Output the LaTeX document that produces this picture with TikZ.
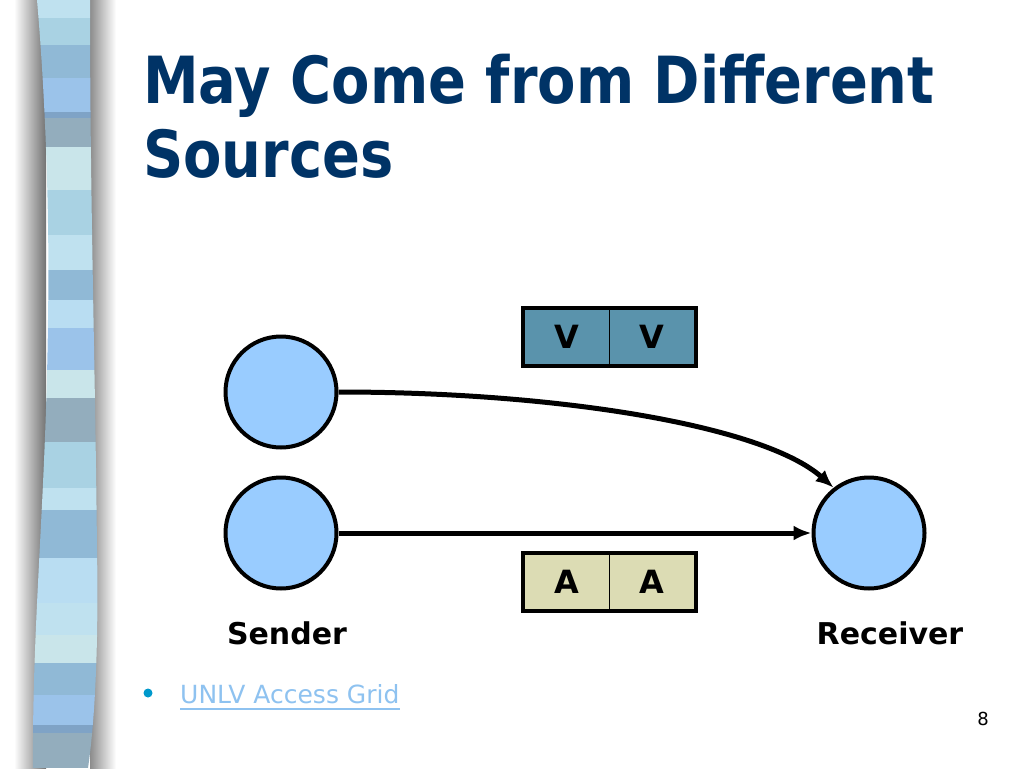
\documentclass[tikz,border=0pt]{standalone}
\usepackage{fontspec}
\setmainfont{DejaVu Sans}
\newfontfamily\titlefont{DejaVu Sans}[FakeStretch=0.86]
\usetikzlibrary{arrows.meta,calc}

\definecolor{titleblue}{HTML}{003366}
\definecolor{hostblue}{HTML}{99CCFF}
\definecolor{vidblue}{HTML}{5A93AC}
\definecolor{audbeige}{HTML}{DCDCB4}
\definecolor{linkblue}{HTML}{8EC2F0}
\definecolor{dotblue}{HTML}{0099CC}
\definecolor{sA}{HTML}{BFE1EF}
\definecolor{sB}{HTML}{A9D2E3}
\definecolor{sC}{HTML}{90B9D6}
\definecolor{sD}{HTML}{9BC3EA}
\definecolor{sE}{HTML}{7FA3C6}
\definecolor{sF}{HTML}{93ADBD}
\definecolor{sG}{HTML}{C9E5EA}
\definecolor{sH}{HTML}{B9DDF2}

\tikzset{
  host/.style={circle, draw=black, line width=4pt, fill=hostblue, minimum size=111pt, inner sep=0pt},
  cell/.style={rectangle, draw=black, line width=1.5pt, minimum width=85.5pt, minimum height=56pt, inner sep=0pt, font=\bfseries\fontsize{32}{36}\selectfont},
  flow/.style={line width=5pt, -{Latex[length=18pt,width=15pt]}},
  tag/.style={font=\bfseries\fontsize{30}{34}\selectfont, anchor=base},
}

\begin{document}
\begin{tikzpicture}[x=1pt, y=-1pt]
		%%%%% START %%%%%
		\useasboundingbox (0, 0) rectangle (1024, 768);
		\fill[white] (0, 0) rectangle (1024, 768);
		
		% strip shadow
		\shade[left color=white, right color=black!55] (14, 0) rectangle (46, 768);
		\shade[left color=black!45, right color=white] (90, 0) rectangle (116, 768);
		
		% strip
		\begin{scope}
		\clip (37, 0) .. controls (44, 80) and (50, 200) .. (48, 320) .. controls (46, 500) and (32, 620) .. (33, 768) -- (88, 768) .. controls (98, 700) and (98, 600) .. (97, 550) .. controls (95, 350) and (90, 200) .. (90, 0) -- cycle;
		\fill[sA] (0, 0) rectangle (120, 18);
		\fill[sB] (0, 18) rectangle (120, 45);
		\fill[sC] (0, 45) rectangle (120, 78);
		\fill[sD] (0, 78) rectangle (120, 112);
		\fill[sE] (0, 112) rectangle (120, 118);
		\fill[sF] (0, 118) rectangle (120, 147);
		\fill[sG] (0, 147) rectangle (120, 190);
		\fill[sB] (0, 190) rectangle (120, 235);
		\fill[sA] (0, 235) rectangle (120, 270);
		\fill[sC] (0, 270) rectangle (120, 300);
		\fill[sH] (0, 300) rectangle (120, 328);
		\fill[sD] (0, 328) rectangle (120, 370);
		\fill[sG] (0, 370) rectangle (120, 398);
		\fill[sF] (0, 398) rectangle (120, 442);
		\fill[sB] (0, 442) rectangle (120, 488);
		\fill[sA] (0, 488) rectangle (120, 510);
		\fill[sC] (0, 510) rectangle (120, 558);
		\fill[sH] (0, 558) rectangle (120, 603);
		\fill[sA] (0, 603) rectangle (120, 635);
		\fill[sG] (0, 635) rectangle (120, 663);
		\fill[sC] (0, 663) rectangle (120, 695);
		\fill[sD] (0, 695) rectangle (120, 725);
		\fill[sE] (0, 725) rectangle (120, 733);
		\fill[sF] (0, 733) rectangle (120, 768);
		\end{scope}
		
		% title
		\node[anchor=base west, inner sep=0pt, text=titleblue, font=\titlefont\bfseries\fontsize{65}{74}\selectfont] (title1) at (143, 103) {May Come from Different};
		\node[anchor=base west, inner sep=0pt, text=titleblue, font=\titlefont\bfseries\fontsize{65}{74}\selectfont] (title2) at (143, 177) {Sources};
		
		% hosts
		\node[host] (sendA) at (281, 392) {};
		\node[host] (sendB) at (281, 533) {};
		\node[host] (recv) at (869, 533) {};
		
		\node[tag] (lblSend) at (287, 644) {Sender};
		\node[tag] (lblRecv) at (890, 644) {Receiver};
		
		% packets
		\node[cell, fill=vidblue] (vidA) at (566.75, 337) {V};
		\node[cell, fill=vidblue] (vidB) at (652.25, 337) {V};
		\node[cell, fill=audbeige] (audA) at (566.75, 582) {A};
		\node[cell, fill=audbeige] (audB) at (652.25, 582) {A};
		\draw[line width=4pt] (vidA.north west) rectangle (vidB.south east);
		\draw[line width=4pt] (audA.north west) rectangle (audB.south east);
		
		% flows
		\draw[flow] (sendB.east) -- (recv.west);
		\draw[flow] (sendA.east) .. controls +(220, 0) and +(-70, -62) .. (recv.128);
		
		% link and page number
		\fill[dotblue] (148, 693) circle (4.5);
		\node[anchor=base west, inner sep=0pt, text=linkblue, font=\fontsize{25}{28}\selectfont] (link) at (180, 703) {UNLV Access Grid};
		\draw[linkblue, line width=1.2pt] ($(link.base west)+(0, 6)$) -- ($(link.base east)+(0, 6)$);
		\node[anchor=base east, inner sep=0pt, font=\fontsize{18}{22}\selectfont] (page) at (989, 725) {8};
		
		%%%%% END %%%%%
	\end{tikzpicture}
\end{document}
